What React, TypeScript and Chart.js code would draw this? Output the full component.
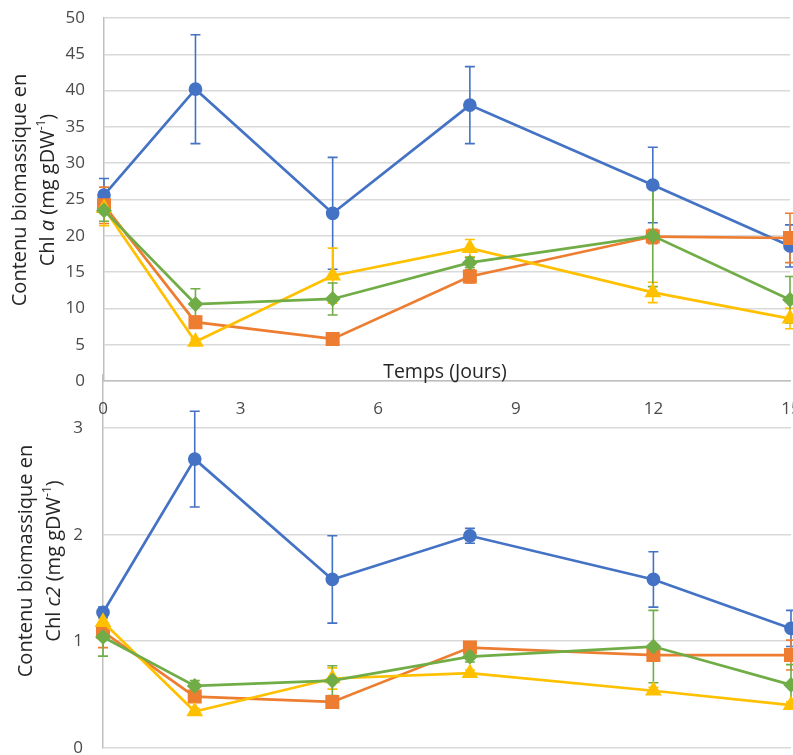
import React, { useEffect, useRef } from 'react';
import { Chart, registerables } from 'chart.js';
Chart.register(...registerables);

// ---------- DATA ----------
const days = [0, 2, 5, 8, 12, 15];
const xTickLabels = [0, 3, 6, 9, 12, 15];

// Chl a (top panel)
const blueA = [25.6, 40.2, 23.1, 38.0, 27.0, 18.6];
const blueAErr = [2.3, 7.5, 7.7, 5.3, 5.2, 2.9];
const orangeA = [24.2, 8.1, 5.8, 14.4, 19.9, 19.7];
const orangeAErr = [2.5, 0.8, 0.3, 0.9, 1.0, 3.4];
const yellowA = [23.8, 5.4, 14.5, 18.3, 12.2, 8.6];
const yellowAErr = [2.4, 0.4, 3.8, 1.2, 1.4, 1.4];
const greenA = [23.5, 10.6, 11.3, 16.3, 20.0, 11.2];
const greenAErr = [1.5, 2.1, 2.2, 0.7, 7.0, 3.2];

// Chl c2 (bottom panel)
const blueC = [1.27, 2.71, 1.58, 1.99, 1.58, 1.12];
const blueCErr = [0.05, 0.45, 0.41, 0.07, 0.26, 0.17];
const orangeC = [1.09, 0.48, 0.43, 0.94, 0.87, 0.87];
const orangeCErr = [0.15, 0.03, 0.03, 0.04, 0.05, 0.14];
const yellowC = [1.18, 0.34, 0.65, 0.7, 0.535, 0.4];
const yellowCErr = [0.05, 0.03, 0.1, 0.03, 0.03, 0.03];
const greenC = [1.04, 0.58, 0.63, 0.855, 0.95, 0.59];
const greenCErr = [0.18, 0.05, 0.14, 0.05, 0.34, 0.19];

const xAxisTitle = 'Temps (Jours)';

// ---------- STYLE ----------
const FONT = '"Open Sans", "DejaVu Sans", sans-serif';
const BLUE = '#4472C4';
const ORANGE = '#ED7D31';
const YELLOW = '#FFC000';
const GREEN = '#70AD47';
const TICK_COLOR = '#4a4a4a';
const TITLE_COLOR = '#262626';
const GRID = '#d9d9d9';
const AXIS = '#bfbfbf';

type Seg = { t: string; italic?: boolean; sup?: boolean };

function drawRotatedRich(
  ctx: CanvasRenderingContext2D,
  lines: { x: number; segs: Seg[] }[],
  cy: number,
  size: number,
  color: string
) {
  const fontFor = (s: Seg) =>
    `${s.italic ? 'italic ' : ''}${s.sup ? Math.round(size * 0.62) : size}px ${FONT}`;
  lines.forEach((line) => {
    ctx.save();
    ctx.translate(line.x, cy);
    ctx.rotate(-Math.PI / 2);
    ctx.fillStyle = color;
    ctx.textBaseline = 'middle';
    ctx.textAlign = 'left';
    let total = 0;
    line.segs.forEach((s) => {
      ctx.font = fontFor(s);
      total += ctx.measureText(s.t).width;
    });
    let x = -total / 2;
    line.segs.forEach((s) => {
      ctx.font = fontFor(s);
      ctx.fillText(s.t, x, s.sup ? -size * 0.33 : 0);
      x += ctx.measureText(s.t).width;
    });
    ctx.restore();
  });
}

const errorBarPlugin = {
  id: 'errorBars',
  beforeDatasetsDraw(chart: any) {
    const ctx = chart.ctx as CanvasRenderingContext2D;
    const xs = chart.scales.x;
    const ys = chart.scales.y;
    chart.data.datasets.forEach((ds: any) => {
      const errs: number[] = ds.errors;
      if (!errs) return;
      ctx.save();
      ctx.strokeStyle = ds.borderColor;
      ctx.lineWidth = 1.6;
      ds.data.forEach((p: any, i: number) => {
        const e = errs[i];
        if (!e) return;
        const x = xs.getPixelForValue(p.x);
        const y1 = ys.getPixelForValue(p.y + e);
        const y2 = ys.getPixelForValue(p.y - e);
        const cap = 5;
        ctx.beginPath();
        ctx.moveTo(x, y1);
        ctx.lineTo(x, y2);
        ctx.moveTo(x - cap, y1);
        ctx.lineTo(x + cap, y1);
        ctx.moveTo(x - cap, y2);
        ctx.lineTo(x + cap, y2);
        ctx.stroke();
      });
      ctx.restore();
    });
  },
};

function makeDatasets(
  b: number[], be: number[], o: number[], oe: number[],
  y: number[], ye: number[], g: number[], ge: number[]
) {
  const pts = (arr: number[]) => arr.map((v, i) => ({ x: days[i], y: v }));
  const common = { borderWidth: 2.7, clip: false as any, tension: 0 };
  return [
    { ...common, label: 'b', data: pts(b), errors: be, borderColor: BLUE, backgroundColor: BLUE, pointStyle: 'circle', pointRadius: 5.5, order: 4 },
    { ...common, label: 'o', data: pts(o), errors: oe, borderColor: ORANGE, backgroundColor: ORANGE, pointStyle: 'rect', pointRadius: 8, order: 3 },
    { ...common, label: 'y', data: pts(y), errors: ye, borderColor: YELLOW, backgroundColor: YELLOW, pointStyle: 'triangle', pointRadius: 7, order: 2 },
    { ...common, label: 'g', data: pts(g), errors: ge, borderColor: GREEN, backgroundColor: GREEN, pointStyle: 'rectRot', pointRadius: 6, order: 1 },
  ];
}

function TopChart() {
  const ref = useRef<HTMLCanvasElement>(null);
  useEffect(() => {
    const titlePlugin = {
      id: 'titlesTop',
      afterDraw(chart: any) {
        const ctx = chart.ctx as CanvasRenderingContext2D;
        drawRotatedRich(
          ctx,
          [
            { x: 20, segs: [{ t: 'Contenu biomassique en' }] },
            { x: 48, segs: [{ t: 'Chl ' }, { t: 'a', italic: true }, { t: ' (mg gDW' }, { t: '-1', sup: true }, { t: ')' }] },
          ],
          190,
          20,
          TITLE_COLOR
        );
        ctx.save();
        ctx.font = `19.5px ${FONT}`;
        ctx.fillStyle = TITLE_COLOR;
        ctx.textAlign = 'center';
        ctx.textBaseline = 'middle';
        ctx.fillText(xAxisTitle, 445, 372);
        ctx.restore();
      },
    };
    const chart = new Chart(ref.current!, {
      type: 'line',
      data: { datasets: makeDatasets(blueA, blueAErr, orangeA, orangeAErr, yellowA, yellowAErr, greenA, greenAErr) as any },
      options: {
        animation: false,
        responsive: false,
        layout: { autoPadding: false, padding: { top: 18, right: 3, bottom: 19, left: 0 } },
        plugins: { legend: { display: false }, tooltip: { enabled: false } },
        scales: {
          x: {
            type: 'linear', min: 0, max: 15,
            ticks: { display: false },
            grid: { display: false },
            border: { display: true, color: AXIS, width: 1.5 },
            afterFit: (s: any) => { s.height = 0; s.paddingLeft = 0; s.paddingRight = 0; },
          },
          y: {
            min: 0, max: 50,
            ticks: { stepSize: 5, color: TICK_COLOR, font: { family: FONT, size: 17 }, padding: 19 },
            grid: { color: GRID, lineWidth: 1.5, drawTicks: false },
            border: { display: true, color: AXIS, width: 1.5 },
            afterFit: (s: any) => { s.width = 104; s.paddingTop = 0; s.paddingBottom = 0; },
          },
        },
      } as any,
      plugins: [errorBarPlugin, titlePlugin],
    });
    return () => chart.destroy();
  }, []);
  return <canvas ref={ref} width={793} height={400} style={{ position: 'absolute', left: 0, top: 0 }} />;
}

function BottomChart() {
  const ref = useRef<HTMLCanvasElement>(null);
  useEffect(() => {
    const titlePlugin = {
      id: 'titlesBottom',
      afterDraw(chart: any) {
        const ctx = chart.ctx as CanvasRenderingContext2D;
        drawRotatedRich(
          ctx,
          [
            { x: 26, segs: [{ t: 'Contenu biomassique en' }] },
            { x: 54, segs: [{ t: 'Chl ' }, { t: 'c2', italic: true }, { t: ' (mg gDW' }, { t: '-1', sup: true }, { t: ')' }] },
          ],
          561 - 370,
          20,
          TITLE_COLOR
        );
        const xs = chart.scales.x;
        ctx.save();
        ctx.font = `17px ${FONT}`;
        ctx.fillStyle = TICK_COLOR;
        ctx.textAlign = 'center';
        ctx.textBaseline = 'middle';
        xTickLabels.forEach((v) => {
          ctx.fillText(String(v), xs.getPixelForValue(v), 409 - 370);
        });
        ctx.restore();
      },
    };
    const chart = new Chart(ref.current!, {
      type: 'line',
      data: { datasets: makeDatasets(blueC, blueCErr, orangeC, orangeCErr, yellowC, yellowCErr, greenC, greenCErr) as any },
      options: {
        animation: false,
        responsive: false,
        layout: { autoPadding: false, padding: { top: 5, right: 2, bottom: 7.3, left: 0 } },
        plugins: { legend: { display: false }, tooltip: { enabled: false } },
        scales: {
          x: { type: 'linear', min: 0, max: 15, display: false },
          y: {
            min: 0, max: 3.5,
            ticks: { stepSize: 1, color: TICK_COLOR, font: { family: FONT, size: 17 }, padding: 20 },
            afterBuildTicks: (s: any) => { s.ticks = s.ticks.filter((t: any) => Number.isInteger(t.value)); },
            grid: { color: GRID, lineWidth: 1.5, drawTicks: false },
            border: { display: true, color: AXIS, width: 1.5 },
            afterFit: (s: any) => { s.width = 103; s.paddingTop = 0; s.paddingBottom = 0; },
          },
        },
      } as any,
      plugins: [errorBarPlugin, titlePlugin],
    });
    return () => chart.destroy();
  }, []);
  return <canvas ref={ref} width={793} height={385} style={{ position: 'absolute', left: 0, top: 370 }} />;
}

export default function App() {
  return (
    <div style={{ position: 'absolute', left: 0, top: 0, width: 793, height: 755, background: '#ffffff', overflow: 'hidden' }}>
      <BottomChart />
      <TopChart />
    </div>
  );
}
